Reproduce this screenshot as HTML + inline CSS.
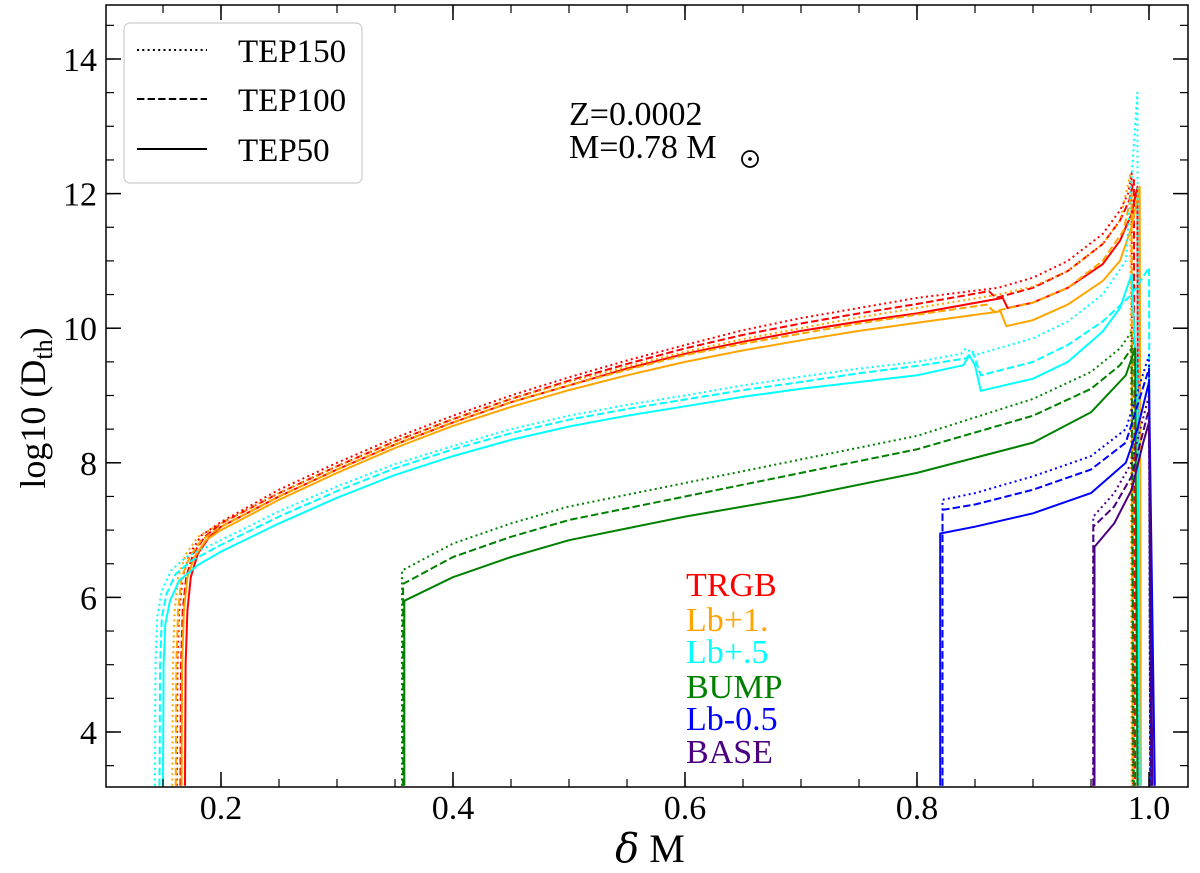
<!DOCTYPE html>
<html><head><meta charset="utf-8"><style>
body{margin:0;background:#fff}
svg{display:block;font-family:"Liberation Serif",serif}
</style></head><body>
<svg id="chart" width="1200" height="873" xmlns="http://www.w3.org/2000/svg">
<g id="plot"></g>
<g id="axes"></g>
<g>
<rect x="124" y="23" width="238" height="160" rx="6" fill="#fff" stroke="#ccc" stroke-width="1.2"/>
<line x1="137" y1="50" x2="207" y2="50" stroke="#000" stroke-width="2" stroke-dasharray="2,3.3"/>
<text x="238" y="62" font-size="33">TEP150</text>
<line x1="137" y1="99" x2="207" y2="99" stroke="#000" stroke-width="2" stroke-dasharray="7.4,3.2"/>
<text x="238" y="111" font-size="33">TEP100</text>
<line x1="137" y1="149" x2="207" y2="149" stroke="#000" stroke-width="2"/>
<text x="238" y="161" font-size="33">TEP50</text>
</g>
<text x="569" y="125" font-size="34">Z=0.0002</text>
<text x="569" y="158" font-size="34">M=0.78 M</text>
<circle cx="750" cy="159" r="8" fill="none" stroke="#000" stroke-width="1.8"/>
<circle cx="750" cy="159" r="1.8" fill="#000"/>
<g font-size="34">
<text x="686" y="596" fill="#ff0000">TRGB</text>
<text x="686" y="631" fill="#ffa500">Lb+1.</text>
<text x="686" y="663" fill="#00ffff">Lb+.5</text>
<text x="686" y="698" fill="#008000">BUMP</text>
<text x="686" y="730" fill="#0000ff">Lb-0.5</text>
<text x="686" y="763" fill="#4b0082">BASE</text>
</g>
<text x="650" y="862" font-size="40" text-anchor="middle"><tspan font-style="italic" font-family="DejaVu Serif, serif">δ</tspan> M</text>
<text transform="translate(45,408) rotate(-90)" font-size="36" text-anchor="middle">log10 (D<tspan font-size="26" dy="7">th</tspan><tspan dy="-7">)</tspan></text>
</svg>
<script>
const xTicks=[0.2,0.4,0.6,0.8,1.0];
const xTickLabels=["0.2","0.4","0.6","0.8","1.0"];
const yTicks=[4,6,8,10,12,14];
const yTickLabels=["4","6","8","10","12","14"];
const seriesColors={red:"#ff0000",orange:"#ffa500",cyan:"#00ffff",green:"#008000",blue:"#0000ff",indigo:"#4b0082"};
const trgb150=[[0.162,3.2],[0.1625,5.0],[0.164,5.8],[0.167,6.3],[0.173,6.65],[0.183,6.92],[0.2,7.12],[0.25,7.6],[0.3,8.0],[0.35,8.37],[0.4,8.7],[0.45,9.0],[0.5,9.27],[0.55,9.52],[0.6,9.75],[0.65,9.97],[0.7,10.15],[0.75,10.3],[0.8,10.45],[0.87,10.6],[0.9,10.75],[0.93,11.0],[0.96,11.4],[0.975,11.75],[0.982,12.0],[0.985,12.3],[0.986,3.2]];
const trgb100=[[0.165,3.2],[0.1655,5.0],[0.167,5.8],[0.17,6.3],[0.176,6.65],[0.186,6.9],[0.2,7.1],[0.25,7.55],[0.3,7.95],[0.35,8.32],[0.4,8.65],[0.45,8.95],[0.5,9.22],[0.55,9.47],[0.6,9.7],[0.65,9.9],[0.7,10.07],[0.75,10.22],[0.8,10.36],[0.862,10.55],[0.868,10.45],[0.9,10.6],[0.93,10.85],[0.96,11.25],[0.975,11.6],[0.983,11.9],[0.987,12.2],[0.988,3.2]];
const trgb50=[[0.169,3.2],[0.1695,5.0],[0.171,5.8],[0.174,6.3],[0.18,6.65],[0.19,6.9],[0.2,7.05],[0.25,7.5],[0.3,7.9],[0.35,8.27],[0.4,8.6],[0.45,8.9],[0.5,9.15],[0.55,9.4],[0.6,9.62],[0.65,9.8],[0.7,9.96],[0.75,10.1],[0.8,10.22],[0.874,10.45],[0.878,10.3],[0.9,10.38],[0.93,10.6],[0.96,10.95],[0.975,11.3],[0.985,11.7],[0.99,12.1],[0.991,3.2]];
const lb1_150=[[0.158,3.2],[0.1585,5.0],[0.16,5.8],[0.163,6.3],[0.17,6.65],[0.18,6.9],[0.2,7.1],[0.25,7.55],[0.3,7.95],[0.35,8.32],[0.4,8.65],[0.45,8.95],[0.5,9.2],[0.55,9.43],[0.6,9.65],[0.65,9.84],[0.7,10.0],[0.75,10.16],[0.8,10.3],[0.87,10.5],[0.9,10.62],[0.93,10.85],[0.96,11.25],[0.975,11.6],[0.984,12.3],[0.985,3.2]];
const lb1_100=[[0.161,3.2],[0.1615,5.0],[0.163,5.8],[0.166,6.3],[0.173,6.6],[0.183,6.85],[0.2,7.05],[0.25,7.5],[0.3,7.9],[0.35,8.27],[0.4,8.6],[0.45,8.9],[0.5,9.15],[0.55,9.38],[0.6,9.6],[0.65,9.77],[0.7,9.92],[0.75,10.07],[0.8,10.2],[0.86,10.35],[0.866,10.25],[0.9,10.38],[0.93,10.6],[0.96,11.0],[0.978,11.45],[0.985,12.0],[0.986,3.2]];
const lb1_50=[[0.166,3.2],[0.1665,5.0],[0.168,5.8],[0.171,6.3],[0.177,6.6],[0.187,6.85],[0.2,7.0],[0.25,7.45],[0.3,7.85],[0.35,8.22],[0.4,8.55],[0.45,8.83],[0.5,9.08],[0.55,9.3],[0.6,9.5],[0.65,9.67],[0.7,9.82],[0.75,9.96],[0.8,10.08],[0.872,10.25],[0.877,10.03],[0.9,10.12],[0.93,10.35],[0.96,10.7],[0.975,11.0],[0.985,11.5],[0.992,12.1],[0.993,3.2]];
const lb05_150=[[0.143,3.2],[0.1435,5.0],[0.145,5.7],[0.149,6.1],[0.157,6.4],[0.17,6.6],[0.2,6.85],[0.25,7.28],[0.3,7.65],[0.35,7.98],[0.4,8.25],[0.45,8.5],[0.5,8.7],[0.55,8.86],[0.6,9.0],[0.65,9.15],[0.7,9.28],[0.75,9.4],[0.8,9.5],[0.838,9.62],[0.842,9.7],[0.85,9.6],[0.9,9.85],[0.93,10.1],[0.96,10.5],[0.98,11.0],[0.99,13.5],[0.991,3.2]];
const lb05_100=[[0.147,3.2],[0.1475,5.0],[0.149,5.7],[0.153,6.05],[0.161,6.35],[0.175,6.55],[0.2,6.78],[0.25,7.2],[0.3,7.58],[0.35,7.92],[0.4,8.2],[0.45,8.44],[0.5,8.64],[0.55,8.8],[0.6,8.94],[0.65,9.08],[0.7,9.2],[0.75,9.33],[0.8,9.44],[0.842,9.55],[0.848,9.65],[0.855,9.3],[0.9,9.5],[0.93,9.75],[0.96,10.1],[0.985,10.5],[1.0,10.9],[1.001,3.2]];
const lb05_50=[[0.150,3.2],[0.1505,5.0],[0.152,5.6],[0.156,5.95],[0.164,6.25],[0.18,6.48],[0.2,6.68],[0.25,7.1],[0.3,7.48],[0.35,7.82],[0.4,8.1],[0.45,8.34],[0.5,8.54],[0.55,8.7],[0.6,8.84],[0.65,8.98],[0.7,9.1],[0.75,9.2],[0.8,9.3],[0.84,9.45],[0.845,9.6],[0.85,9.45],[0.855,9.07],[0.9,9.25],[0.93,9.5],[0.96,9.95],[0.975,10.3],[0.985,10.8],[0.99,9.0],[0.992,3.2]];
const bump150=[[0.356,3.2],[0.356,6.4],[0.4,6.8],[0.45,7.1],[0.5,7.35],[0.6,7.7],[0.7,8.05],[0.8,8.4],[0.9,8.95],[0.95,9.35],[0.975,9.7],[0.985,9.95],[0.986,3.2]];
const bump100=[[0.357,3.2],[0.357,6.2],[0.4,6.6],[0.45,6.9],[0.5,7.15],[0.6,7.5],[0.7,7.85],[0.8,8.2],[0.9,8.7],[0.95,9.1],[0.975,9.45],[0.985,9.7],[0.987,3.2]];
const bump50=[[0.358,3.2],[0.358,5.95],[0.4,6.3],[0.45,6.6],[0.5,6.85],[0.6,7.2],[0.7,7.5],[0.8,7.85],[0.9,8.3],[0.95,8.75],[0.98,9.3],[0.988,9.7],[0.99,3.2]];
const lbm05_150=[[0.822,3.2],[0.822,7.45],[0.85,7.55],[0.9,7.8],[0.95,8.1],[0.98,8.5],[1.0,9.6],[1.001,3.2]];
const lbm05_100=[[0.822,3.2],[0.822,7.3],[0.85,7.38],[0.9,7.6],[0.95,7.9],[0.98,8.3],[1.0,9.4],[1.002,3.2]];
const lbm05_50=[[0.82,3.2],[0.82,6.95],[0.85,7.05],[0.9,7.25],[0.95,7.55],[0.98,8.0],[0.99,8.5],[1.0,9.2],[1.005,3.2]];
const base150=[[0.952,3.2],[0.952,7.2],[0.97,7.55],[0.985,8.0],[1.0,9.0],[1.001,3.2]];
const base100=[[0.952,3.2],[0.952,7.05],[0.97,7.35],[0.985,7.8],[1.0,8.8],[1.002,3.2]];
const base50=[[0.953,3.2],[0.953,6.75],[0.97,7.1],[0.985,7.6],[0.995,8.3],[1.0,8.6],[1.003,3.2]];

const L=106,R=1188,T=5,B=787;
const X0=0.2,XPX0=221,XS=1160,Y0=4,YPX0=732,YS=67.3;
function sx(v){return XPX0+(v-X0)*XS;}
function sy(v){return YPX0-(v-Y0)*YS;}
const NS="http://www.w3.org/2000/svg";
const plot=document.getElementById('plot');
const axes=document.getElementById('axes');
const dash={dot:"2,3.3",dash:"7.4,3.2",solid:""};
const series=[
["trgb-tep150",trgb150,"red","dot"],["trgb-tep100",trgb100,"red","dash"],["trgb-tep50",trgb50,"red","solid"],
["lb1-tep150",lb1_150,"orange","dot"],["lb1-tep100",lb1_100,"orange","dash"],["lb1-tep50",lb1_50,"orange","solid"],
["lb05-tep150",lb05_150,"cyan","dot"],["lb05-tep100",lb05_100,"cyan","dash"],["lb05-tep50",lb05_50,"cyan","solid"],
["bump-tep150",bump150,"green","dot"],["bump-tep100",bump100,"green","dash"],["bump-tep50",bump50,"green","solid"],
["lbm05-tep150",lbm05_150,"blue","dot"],["lbm05-tep100",lbm05_100,"blue","dash"],["lbm05-tep50",lbm05_50,"blue","solid"],
["base-tep150",base150,"indigo","dot"],["base-tep100",base100,"indigo","dash"],["base-tep50",base50,"indigo","solid"]];
const cp=document.createElementNS(NS,'clipPath');cp.setAttribute('id','clip');
const cr=document.createElementNS(NS,'rect');cr.setAttribute('x',L);cr.setAttribute('y',T);cr.setAttribute('width',R-L);cr.setAttribute('height',B-T);
cp.appendChild(cr);plot.appendChild(cp);
plot.setAttribute('clip-path','url(#clip)');
series.forEach(s=>{
 const p=document.createElementNS(NS,'polyline');
 
 
 p.setAttribute('points',s[1].map(d=>sx(d[0]).toFixed(1)+','+sy(d[1]).toFixed(1)).join(' '));
 p.setAttribute('fill','none');p.setAttribute('stroke',seriesColors[s[2]]);p.setAttribute('stroke-width','2');
 p.setAttribute('stroke-linejoin','round');
 if(dash[s[3]])p.setAttribute('stroke-dasharray',dash[s[3]]);
 plot.appendChild(p);
});
function ln(x1,y1,x2,y2,w,name){const l=document.createElementNS(NS,'line');
 
 
 l.setAttribute('x1',x1);l.setAttribute('y1',y1);l.setAttribute('x2',x2);l.setAttribute('y2',y2);l.setAttribute('stroke','#000');l.setAttribute('stroke-width',w);axes.appendChild(l);}
for(let k=2;k<=20;k++){const v=k*0.05;const x=sx(v);if(x<L||x>R)continue;ln(x,B,x,B-8,1.2,'x-minor-tick');ln(x,T,x,T+8,1.2,'x-minor-tick');}
for(let k=7;k<=29;k++){const v=k*0.5;const y=sy(v);if(y<T||y>B)continue;ln(L,y,L+8,y,1.2,'y-minor-tick');ln(R,y,R-8,y,1.2,'y-minor-tick');}
xTicks.forEach((v,i)=>{const x=sx(v);ln(x,B,x,B-15,1.5,'x-major-tick');ln(x,T,x,T+15,1.5,'x-major-tick');
 const t=document.createElementNS(NS,'text');
 
 
 t.setAttribute('x',x);t.setAttribute('y',B+32);t.setAttribute('font-size','34');t.setAttribute('text-anchor','middle');t.textContent=xTickLabels[i];axes.appendChild(t);});
yTicks.forEach((v,i)=>{const y=sy(v);ln(L,y,L+15,y,1.5,'y-major-tick');ln(R,y,R-15,y,1.5,'y-major-tick');
 const t=document.createElementNS(NS,'text');
 
 
 t.setAttribute('x',L-9);t.setAttribute('y',y+12);t.setAttribute('font-size','34');t.setAttribute('text-anchor','end');t.textContent=yTickLabels[i];axes.appendChild(t);});
const fr=document.createElementNS(NS,'rect');


fr.setAttribute('x',L);fr.setAttribute('y',T);fr.setAttribute('width',R-L);fr.setAttribute('height',B-T);fr.setAttribute('fill','none');fr.setAttribute('stroke','#000');fr.setAttribute('stroke-width','1.5');
axes.appendChild(fr);
</script>
</body></html>
